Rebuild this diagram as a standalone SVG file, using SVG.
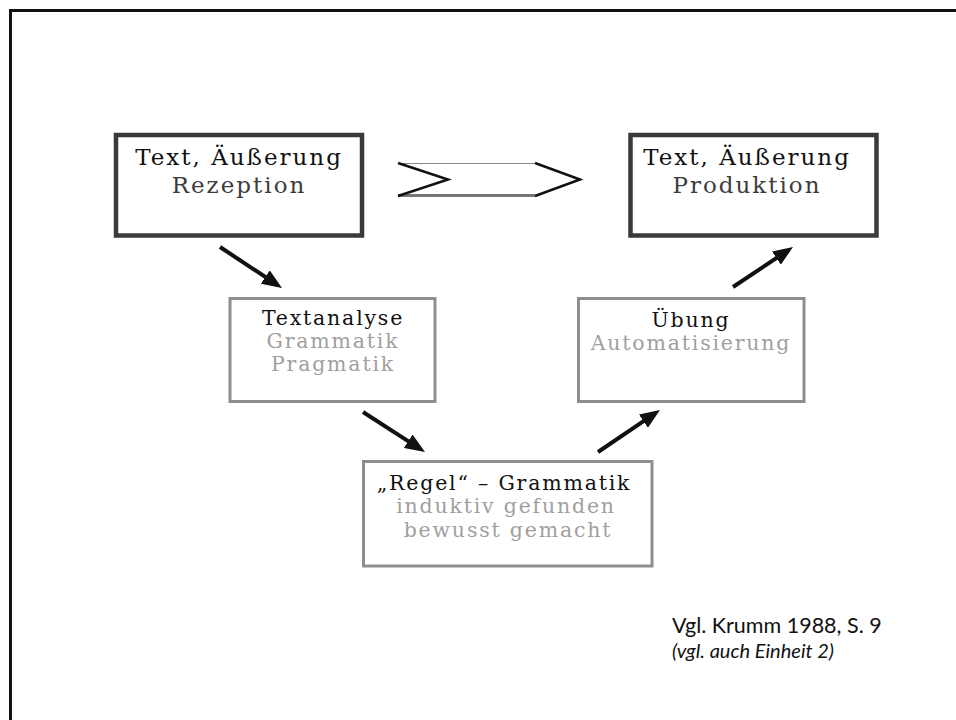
<svg xmlns="http://www.w3.org/2000/svg" width="956" height="720" viewBox="0 0 956 720">
  <style>
    .frame { fill: none; stroke: #111; stroke-width: 3; }
    .main { fill: #fff; stroke: #3a3a3a; stroke-width: 4.5; }
    .sub { fill: #fff; stroke: #8e8e8e; stroke-width: 3; }
    .t { font-family: "DejaVu Serif", "Liberation Serif", serif; text-anchor: middle; }
    .big { font-size: 23px; letter-spacing: 2px; }
    .small { font-size: 20.5px; letter-spacing: 1.8px; }
    .dark { fill: #111; }
    .mid { fill: #3c3c3c; }
    .light { fill: #a0a0a0; }
    .arrow { stroke: #111; stroke-width: 4; fill: none; marker-end: url(#head); }
    .note { font-family: Lato, "Liberation Sans", sans-serif; fill: #111; }
  </style>
  <defs>
    <marker id="head" markerUnits="userSpaceOnUse" viewBox="0 0 20 16" markerWidth="20" markerHeight="16" refX="10" refY="8" orient="auto">
      <path d="M0,0 L20,8 L0,16 z" fill="#111"/>
    </marker>
  </defs>

  <rect width="956" height="720" fill="#fff"/>
  <!-- page frame, open to the right and bottom -->
  <rect class="frame" x="10.5" y="10.5" width="1000" height="1000"/>

  <g id="rezeption">
    <rect class="main" x="116" y="135" width="246" height="100.5"/>
    <text class="t big dark" x="239" y="165">Text, Äußerung</text>
    <text class="t big mid" x="239" y="193">Rezeption</text>
  </g>

  <g id="produktion">
    <rect class="main" x="630.5" y="135" width="246" height="100.5"/>
    <text class="t big dark" x="747" y="165">Text, Äußerung</text>
    <text class="t big mid" x="747" y="193">Produktion</text>
  </g>

  <!-- chevron between the two text boxes -->
  <g id="chevron">
    <polygon points="398,163 535,163 580,179.5 535,196 398,196 448,179.5" fill="#fff"/>
    <line x1="398" y1="163.5" x2="535" y2="163.5" stroke="#888" stroke-width="1.2"/>
    <line x1="398" y1="195.5" x2="535" y2="195.5" stroke="#777" stroke-width="3"/>
    <polyline points="398,163 448,179.5 398,196" fill="none" stroke="#111" stroke-width="2.5"/>
    <polyline points="535,163 580,179.5 535,196" fill="none" stroke="#111" stroke-width="2.5"/>
  </g>

  <g id="textanalyse">
    <rect class="sub" x="230" y="298.5" width="205" height="103"/>
    <text class="t small dark" x="333" y="325">Textanalyse</text>
    <text class="t small light" x="333" y="348">Grammatik</text>
    <text class="t small light" x="333" y="371">Pragmatik</text>
  </g>

  <g id="uebung">
    <rect class="sub" x="578.5" y="298.5" width="225.5" height="103"/>
    <text class="t small dark" x="691" y="327">Übung</text>
    <text class="t small light" x="691" y="350">Automatisierung</text>
  </g>

  <g id="regel">
    <rect class="sub" x="363.5" y="461.5" width="288.5" height="104.5"/>
    <text class="t small dark" x="504" y="490">„Regel“ – Grammatik</text>
    <text class="t small light" x="506" y="513">induktiv gefunden</text>
    <text class="t small light" x="508" y="537">bewusst gemacht</text>
  </g>

  <g id="connectors">
    <line class="arrow" x1="220" y1="247" x2="273.7" y2="282.5"/>
    <line class="arrow" x1="363" y1="412" x2="416.6" y2="446.6"/>
    <line class="arrow" x1="598" y1="452" x2="651.7" y2="415.6"/>
    <line class="arrow" x1="733" y1="287" x2="784.7" y2="252.5"/>
  </g>

  <g id="source">
    <text class="note" x="672" y="633" font-size="21.5">Vgl. Krumm 1988, S. 9</text>
    <text class="note" x="672" y="658" font-size="20" font-style="italic">(vgl. auch Einheit 2)</text>
  </g>
</svg>
